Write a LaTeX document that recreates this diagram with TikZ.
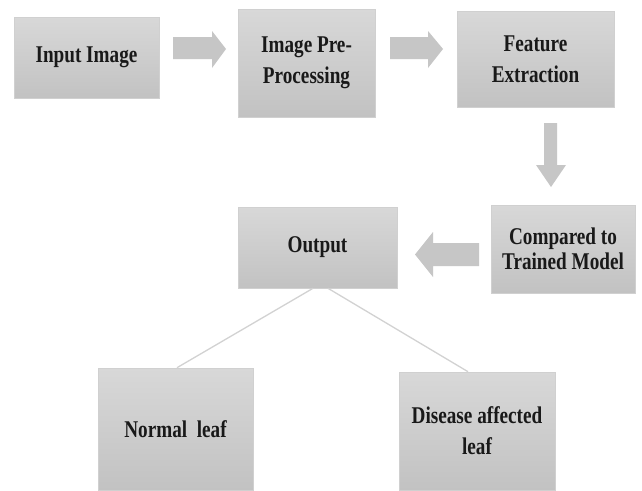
\documentclass[tikz,border=0pt]{standalone}
\usepackage{fontspec}
\setmainfont{Liberation Serif}[FakeStretch=0.8]
\begin{document}
\begin{tikzpicture}[x=1pt,y=-1pt,
  box/.style={rectangle, inner sep=0pt, align=center, top color=boxtop, bottom color=boxbot,
    draw=boxedge, line width=0.6pt, font=\fontsize{24}{31}\selectfont\bfseries, text=black!90},
  blockarrow/.style={fill=arrowgray, draw=none},
  link/.style={draw=linegray, line width=1.3pt}]
\definecolor{boxtop}{HTML}{D8D8D8}
\definecolor{boxbot}{HTML}{C2C2C2}
\definecolor{boxedge}{HTML}{D0D0D0}
\definecolor{arrowgray}{HTML}{C6C6C6}
\definecolor{linegray}{HTML}{D2D2D2}
\useasboundingbox (0,0) rectangle (642,490);
\fill[white] (0,0) rectangle (642,490);

\node[box, minimum width=145pt, minimum height=81pt] (inp) at (86.5,57.5) {Input Image};
\node[box, minimum width=137pt, minimum height=108pt] (pre) at (306.5,63) {Image Pre-\\Processing};
\node[box, minimum width=157pt, minimum height=96pt] (feat) at (535.5,59) {Feature\\Extraction};
\node[box, minimum width=144pt, minimum height=88pt, font=\fontsize{24}{25}\selectfont\bfseries] (comp) at (563,249) {Compared to\\Trained Model};
\node[box, minimum width=159pt, minimum height=81pt] (out) at (317.5,247.5) {Output};
\node[box, minimum width=155pt, minimum height=122pt] (norm) at (175.5,429) {Normal\ \ leaf};
\node[box, minimum width=156pt, minimum height=118pt] (dis) at (477,431) {Disease affected\\leaf};

% block arrows
\fill[blockarrow] (173,37) -- (212,37) -- (212,31) -- (226,49) -- (212,68) -- (212,59) -- (173,59) -- cycle;
\fill[blockarrow] (390,37) -- (428,37) -- (428,31) -- (443,49) -- (428,68) -- (428,59) -- (390,59) -- cycle;
\fill[blockarrow] (544,123) -- (557,123) -- (557,165) -- (566,165) -- (551,187) -- (536,165) -- (544,165) -- cycle;
\fill[blockarrow] (479,243) -- (433,243) -- (433,232) -- (415,254.5) -- (433,277) -- (433,266) -- (479,266) -- cycle;

% connectors
\draw[link] ([xshift=-4.5pt]out.south) -- ([xshift=1.5pt]norm.north);
\draw[link] ([xshift=10.5pt]out.south) -- ([xshift=-9pt]dis.north);
\end{tikzpicture}
\end{document}
